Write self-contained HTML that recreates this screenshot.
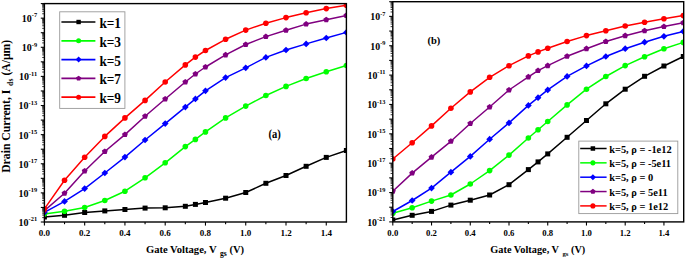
<!DOCTYPE html>
<html><head><meta charset="utf-8"><style>
html,body{margin:0;padding:0;background:#fff;width:685px;height:259px;overflow:hidden}
svg{display:block}
</style></head><body>
<svg width="685" height="259" viewBox="0 0 685 259">
<defs>
<clipPath id="c44"><rect x="44.4" y="3.4" width="302" height="218.6"/></clipPath>
<clipPath id="c392"><rect x="392.8" y="1.4" width="290.5" height="220.2"/></clipPath>
</defs>
<rect width="685" height="259" fill="#fff"/>
<g clip-path="url(#c44)">
<polyline points="44.40,217.00 64.53,215.30 84.67,212.50 104.80,210.90 124.93,209.50 145.07,208.10 165.20,207.80 185.33,206.30 195.40,204.40 205.47,202.50 225.60,198.20 245.73,192.50 265.87,183.30 286.00,175.50 306.13,166.30 326.27,157.40 346.40,150.50" fill="none" stroke="#000000" stroke-width="1.5" stroke-linejoin="round"/>
<rect x="41.90" y="214.50" width="5.00" height="5.00" fill="#000000"/>
<rect x="62.03" y="212.80" width="5.00" height="5.00" fill="#000000"/>
<rect x="82.17" y="210.00" width="5.00" height="5.00" fill="#000000"/>
<rect x="102.30" y="208.40" width="5.00" height="5.00" fill="#000000"/>
<rect x="122.43" y="207.00" width="5.00" height="5.00" fill="#000000"/>
<rect x="142.57" y="205.60" width="5.00" height="5.00" fill="#000000"/>
<rect x="162.70" y="205.30" width="5.00" height="5.00" fill="#000000"/>
<rect x="182.83" y="203.80" width="5.00" height="5.00" fill="#000000"/>
<rect x="192.90" y="201.90" width="5.00" height="5.00" fill="#000000"/>
<rect x="202.97" y="200.00" width="5.00" height="5.00" fill="#000000"/>
<rect x="223.10" y="195.70" width="5.00" height="5.00" fill="#000000"/>
<rect x="243.23" y="190.00" width="5.00" height="5.00" fill="#000000"/>
<rect x="263.37" y="180.80" width="5.00" height="5.00" fill="#000000"/>
<rect x="283.50" y="173.00" width="5.00" height="5.00" fill="#000000"/>
<rect x="303.63" y="163.80" width="5.00" height="5.00" fill="#000000"/>
<rect x="323.77" y="154.90" width="5.00" height="5.00" fill="#000000"/>
<rect x="343.90" y="148.00" width="5.00" height="5.00" fill="#000000"/>
<polyline points="44.40,214.10 64.53,211.20 84.67,207.50 104.80,200.50 124.93,191.20 145.07,177.80 165.20,162.80 185.33,146.60 195.40,139.40 205.47,131.90 225.60,117.90 245.73,106.10 265.87,95.50 286.00,86.40 306.13,78.50 326.27,71.80 346.40,65.50" fill="none" stroke="#00ff00" stroke-width="1.5" stroke-linejoin="round"/>
<circle cx="44.40" cy="214.10" r="2.80" fill="#00ff00"/>
<circle cx="64.53" cy="211.20" r="2.80" fill="#00ff00"/>
<circle cx="84.67" cy="207.50" r="2.80" fill="#00ff00"/>
<circle cx="104.80" cy="200.50" r="2.80" fill="#00ff00"/>
<circle cx="124.93" cy="191.20" r="2.80" fill="#00ff00"/>
<circle cx="145.07" cy="177.80" r="2.80" fill="#00ff00"/>
<circle cx="165.20" cy="162.80" r="2.80" fill="#00ff00"/>
<circle cx="185.33" cy="146.60" r="2.80" fill="#00ff00"/>
<circle cx="195.40" cy="139.40" r="2.80" fill="#00ff00"/>
<circle cx="205.47" cy="131.90" r="2.80" fill="#00ff00"/>
<circle cx="225.60" cy="117.90" r="2.80" fill="#00ff00"/>
<circle cx="245.73" cy="106.10" r="2.80" fill="#00ff00"/>
<circle cx="265.87" cy="95.50" r="2.80" fill="#00ff00"/>
<circle cx="286.00" cy="86.40" r="2.80" fill="#00ff00"/>
<circle cx="306.13" cy="78.50" r="2.80" fill="#00ff00"/>
<circle cx="326.27" cy="71.80" r="2.80" fill="#00ff00"/>
<circle cx="346.40" cy="65.50" r="2.80" fill="#00ff00"/>
<polyline points="44.40,212.40 64.53,201.40 84.67,188.60 104.80,173.00 124.93,157.10 145.07,140.00 165.20,123.60 185.33,107.05 195.40,98.90 205.47,90.80 225.60,77.60 245.73,67.80 265.87,57.40 286.00,50.00 306.13,43.90 326.27,38.00 346.40,32.40" fill="none" stroke="#0000ff" stroke-width="1.5" stroke-linejoin="round"/>
<path d="M44.40,209.04L47.76,212.40L44.40,215.76L41.04,212.40Z" fill="#0000ff"/>
<path d="M64.53,198.04L67.89,201.40L64.53,204.76L61.17,201.40Z" fill="#0000ff"/>
<path d="M84.67,185.24L88.03,188.60L84.67,191.96L81.31,188.60Z" fill="#0000ff"/>
<path d="M104.80,169.64L108.16,173.00L104.80,176.36L101.44,173.00Z" fill="#0000ff"/>
<path d="M124.93,153.74L128.29,157.10L124.93,160.46L121.57,157.10Z" fill="#0000ff"/>
<path d="M145.07,136.64L148.43,140.00L145.07,143.36L141.71,140.00Z" fill="#0000ff"/>
<path d="M165.20,120.24L168.56,123.60L165.20,126.96L161.84,123.60Z" fill="#0000ff"/>
<path d="M185.33,103.69L188.69,107.05L185.33,110.41L181.97,107.05Z" fill="#0000ff"/>
<path d="M195.40,95.54L198.76,98.90L195.40,102.26L192.04,98.90Z" fill="#0000ff"/>
<path d="M205.47,87.44L208.83,90.80L205.47,94.16L202.11,90.80Z" fill="#0000ff"/>
<path d="M225.60,74.24L228.96,77.60L225.60,80.96L222.24,77.60Z" fill="#0000ff"/>
<path d="M245.73,64.44L249.09,67.80L245.73,71.16L242.37,67.80Z" fill="#0000ff"/>
<path d="M265.87,54.04L269.23,57.40L265.87,60.76L262.51,57.40Z" fill="#0000ff"/>
<path d="M286.00,46.64L289.36,50.00L286.00,53.36L282.64,50.00Z" fill="#0000ff"/>
<path d="M306.13,40.54L309.49,43.90L306.13,47.26L302.77,43.90Z" fill="#0000ff"/>
<path d="M326.27,34.64L329.63,38.00L326.27,41.36L322.91,38.00Z" fill="#0000ff"/>
<path d="M346.40,29.04L349.76,32.40L346.40,35.76L343.04,32.40Z" fill="#0000ff"/>
<polyline points="44.40,210.60 64.53,193.30 84.67,171.00 104.80,151.50 124.93,134.60 145.07,116.30 165.20,99.00 185.33,82.00 195.40,74.00 205.47,67.00 225.60,54.90 245.73,44.50 265.87,36.60 286.00,30.30 306.13,24.10 326.27,19.80 346.40,15.40" fill="none" stroke="#800080" stroke-width="1.5" stroke-linejoin="round"/>
<polygon points="44.40,207.52 47.33,209.65 46.21,213.09 42.59,213.09 41.47,209.65" fill="#800080"/>
<polygon points="64.53,190.22 67.46,192.35 66.34,195.79 62.72,195.79 61.60,192.35" fill="#800080"/>
<polygon points="84.67,167.92 87.60,170.05 86.48,173.49 82.86,173.49 81.74,170.05" fill="#800080"/>
<polygon points="104.80,148.42 107.73,150.55 106.61,153.99 102.99,153.99 101.87,150.55" fill="#800080"/>
<polygon points="124.93,131.52 127.86,133.65 126.74,137.09 123.12,137.09 122.00,133.65" fill="#800080"/>
<polygon points="145.07,113.22 148.00,115.35 146.88,118.79 143.26,118.79 142.14,115.35" fill="#800080"/>
<polygon points="165.20,95.92 168.13,98.05 167.01,101.49 163.39,101.49 162.27,98.05" fill="#800080"/>
<polygon points="185.33,78.92 188.26,81.05 187.14,84.49 183.52,84.49 182.40,81.05" fill="#800080"/>
<polygon points="195.40,70.92 198.33,73.05 197.21,76.49 193.59,76.49 192.47,73.05" fill="#800080"/>
<polygon points="205.47,63.92 208.40,66.05 207.28,69.49 203.66,69.49 202.54,66.05" fill="#800080"/>
<polygon points="225.60,51.82 228.53,53.95 227.41,57.39 223.79,57.39 222.67,53.95" fill="#800080"/>
<polygon points="245.73,41.42 248.66,43.55 247.54,46.99 243.92,46.99 242.80,43.55" fill="#800080"/>
<polygon points="265.87,33.52 268.80,35.65 267.68,39.09 264.06,39.09 262.94,35.65" fill="#800080"/>
<polygon points="286.00,27.22 288.93,29.35 287.81,32.79 284.19,32.79 283.07,29.35" fill="#800080"/>
<polygon points="306.13,21.02 309.06,23.15 307.94,26.59 304.32,26.59 303.20,23.15" fill="#800080"/>
<polygon points="326.27,16.72 329.20,18.85 328.08,22.29 324.46,22.29 323.34,18.85" fill="#800080"/>
<polygon points="346.40,12.32 349.33,14.45 348.21,17.89 344.59,17.89 343.47,14.45" fill="#800080"/>
<polyline points="44.40,208.90 64.53,180.30 84.67,157.30 104.80,136.40 124.93,117.90 145.07,100.40 165.20,82.00 185.33,64.90 195.40,57.10 205.47,50.50 225.60,39.30 245.73,30.10 265.87,23.20 286.00,17.60 306.13,12.70 326.27,8.60 346.40,5.30" fill="none" stroke="#ff0000" stroke-width="1.5" stroke-linejoin="round"/>
<circle cx="44.40" cy="208.90" r="2.80" fill="#ff0000"/>
<circle cx="64.53" cy="180.30" r="2.80" fill="#ff0000"/>
<circle cx="84.67" cy="157.30" r="2.80" fill="#ff0000"/>
<circle cx="104.80" cy="136.40" r="2.80" fill="#ff0000"/>
<circle cx="124.93" cy="117.90" r="2.80" fill="#ff0000"/>
<circle cx="145.07" cy="100.40" r="2.80" fill="#ff0000"/>
<circle cx="165.20" cy="82.00" r="2.80" fill="#ff0000"/>
<circle cx="185.33" cy="64.90" r="2.80" fill="#ff0000"/>
<circle cx="195.40" cy="57.10" r="2.80" fill="#ff0000"/>
<circle cx="205.47" cy="50.50" r="2.80" fill="#ff0000"/>
<circle cx="225.60" cy="39.30" r="2.80" fill="#ff0000"/>
<circle cx="245.73" cy="30.10" r="2.80" fill="#ff0000"/>
<circle cx="265.87" cy="23.20" r="2.80" fill="#ff0000"/>
<circle cx="286.00" cy="17.60" r="2.80" fill="#ff0000"/>
<circle cx="306.13" cy="12.70" r="2.80" fill="#ff0000"/>
<circle cx="326.27" cy="8.60" r="2.80" fill="#ff0000"/>
<circle cx="346.40" cy="5.30" r="2.80" fill="#ff0000"/>
</g>
<rect x="44.40" y="3.60" width="302.00" height="218.40" fill="none" stroke="#000" stroke-width="1.4"/>
<line x1="40.80" y1="222.00" x2="44.40" y2="222.00" stroke="#000" stroke-width="1.1"/>
<line x1="42.20" y1="217.62" x2="44.40" y2="217.62" stroke="#000" stroke-width="0.8"/>
<line x1="42.20" y1="215.05" x2="44.40" y2="215.05" stroke="#000" stroke-width="0.8"/>
<line x1="42.20" y1="213.23" x2="44.40" y2="213.23" stroke="#000" stroke-width="0.8"/>
<line x1="42.20" y1="211.82" x2="44.40" y2="211.82" stroke="#000" stroke-width="0.8"/>
<line x1="42.20" y1="210.67" x2="44.40" y2="210.67" stroke="#000" stroke-width="0.8"/>
<line x1="42.20" y1="209.70" x2="44.40" y2="209.70" stroke="#000" stroke-width="0.8"/>
<line x1="42.20" y1="208.85" x2="44.40" y2="208.85" stroke="#000" stroke-width="0.8"/>
<line x1="42.20" y1="208.11" x2="44.40" y2="208.11" stroke="#000" stroke-width="0.8"/>
<line x1="40.80" y1="207.44" x2="44.40" y2="207.44" stroke="#000" stroke-width="1.1"/>
<line x1="42.20" y1="203.06" x2="44.40" y2="203.06" stroke="#000" stroke-width="0.8"/>
<line x1="42.20" y1="200.49" x2="44.40" y2="200.49" stroke="#000" stroke-width="0.8"/>
<line x1="42.20" y1="198.67" x2="44.40" y2="198.67" stroke="#000" stroke-width="0.8"/>
<line x1="42.20" y1="197.26" x2="44.40" y2="197.26" stroke="#000" stroke-width="0.8"/>
<line x1="42.20" y1="196.11" x2="44.40" y2="196.11" stroke="#000" stroke-width="0.8"/>
<line x1="42.20" y1="195.14" x2="44.40" y2="195.14" stroke="#000" stroke-width="0.8"/>
<line x1="42.20" y1="194.29" x2="44.40" y2="194.29" stroke="#000" stroke-width="0.8"/>
<line x1="42.20" y1="193.55" x2="44.40" y2="193.55" stroke="#000" stroke-width="0.8"/>
<line x1="40.80" y1="192.88" x2="44.40" y2="192.88" stroke="#000" stroke-width="1.1"/>
<line x1="42.20" y1="188.50" x2="44.40" y2="188.50" stroke="#000" stroke-width="0.8"/>
<line x1="42.20" y1="185.93" x2="44.40" y2="185.93" stroke="#000" stroke-width="0.8"/>
<line x1="42.20" y1="184.11" x2="44.40" y2="184.11" stroke="#000" stroke-width="0.8"/>
<line x1="42.20" y1="182.70" x2="44.40" y2="182.70" stroke="#000" stroke-width="0.8"/>
<line x1="42.20" y1="181.55" x2="44.40" y2="181.55" stroke="#000" stroke-width="0.8"/>
<line x1="42.20" y1="180.58" x2="44.40" y2="180.58" stroke="#000" stroke-width="0.8"/>
<line x1="42.20" y1="179.73" x2="44.40" y2="179.73" stroke="#000" stroke-width="0.8"/>
<line x1="42.20" y1="178.99" x2="44.40" y2="178.99" stroke="#000" stroke-width="0.8"/>
<line x1="40.80" y1="178.32" x2="44.40" y2="178.32" stroke="#000" stroke-width="1.1"/>
<line x1="42.20" y1="173.94" x2="44.40" y2="173.94" stroke="#000" stroke-width="0.8"/>
<line x1="42.20" y1="171.37" x2="44.40" y2="171.37" stroke="#000" stroke-width="0.8"/>
<line x1="42.20" y1="169.55" x2="44.40" y2="169.55" stroke="#000" stroke-width="0.8"/>
<line x1="42.20" y1="168.14" x2="44.40" y2="168.14" stroke="#000" stroke-width="0.8"/>
<line x1="42.20" y1="166.99" x2="44.40" y2="166.99" stroke="#000" stroke-width="0.8"/>
<line x1="42.20" y1="166.02" x2="44.40" y2="166.02" stroke="#000" stroke-width="0.8"/>
<line x1="42.20" y1="165.17" x2="44.40" y2="165.17" stroke="#000" stroke-width="0.8"/>
<line x1="42.20" y1="164.43" x2="44.40" y2="164.43" stroke="#000" stroke-width="0.8"/>
<line x1="40.80" y1="163.76" x2="44.40" y2="163.76" stroke="#000" stroke-width="1.1"/>
<line x1="42.20" y1="159.38" x2="44.40" y2="159.38" stroke="#000" stroke-width="0.8"/>
<line x1="42.20" y1="156.81" x2="44.40" y2="156.81" stroke="#000" stroke-width="0.8"/>
<line x1="42.20" y1="154.99" x2="44.40" y2="154.99" stroke="#000" stroke-width="0.8"/>
<line x1="42.20" y1="153.58" x2="44.40" y2="153.58" stroke="#000" stroke-width="0.8"/>
<line x1="42.20" y1="152.43" x2="44.40" y2="152.43" stroke="#000" stroke-width="0.8"/>
<line x1="42.20" y1="151.46" x2="44.40" y2="151.46" stroke="#000" stroke-width="0.8"/>
<line x1="42.20" y1="150.61" x2="44.40" y2="150.61" stroke="#000" stroke-width="0.8"/>
<line x1="42.20" y1="149.87" x2="44.40" y2="149.87" stroke="#000" stroke-width="0.8"/>
<line x1="40.80" y1="149.20" x2="44.40" y2="149.20" stroke="#000" stroke-width="1.1"/>
<line x1="42.20" y1="144.82" x2="44.40" y2="144.82" stroke="#000" stroke-width="0.8"/>
<line x1="42.20" y1="142.25" x2="44.40" y2="142.25" stroke="#000" stroke-width="0.8"/>
<line x1="42.20" y1="140.43" x2="44.40" y2="140.43" stroke="#000" stroke-width="0.8"/>
<line x1="42.20" y1="139.02" x2="44.40" y2="139.02" stroke="#000" stroke-width="0.8"/>
<line x1="42.20" y1="137.87" x2="44.40" y2="137.87" stroke="#000" stroke-width="0.8"/>
<line x1="42.20" y1="136.90" x2="44.40" y2="136.90" stroke="#000" stroke-width="0.8"/>
<line x1="42.20" y1="136.05" x2="44.40" y2="136.05" stroke="#000" stroke-width="0.8"/>
<line x1="42.20" y1="135.31" x2="44.40" y2="135.31" stroke="#000" stroke-width="0.8"/>
<line x1="40.80" y1="134.64" x2="44.40" y2="134.64" stroke="#000" stroke-width="1.1"/>
<line x1="42.20" y1="130.26" x2="44.40" y2="130.26" stroke="#000" stroke-width="0.8"/>
<line x1="42.20" y1="127.69" x2="44.40" y2="127.69" stroke="#000" stroke-width="0.8"/>
<line x1="42.20" y1="125.87" x2="44.40" y2="125.87" stroke="#000" stroke-width="0.8"/>
<line x1="42.20" y1="124.46" x2="44.40" y2="124.46" stroke="#000" stroke-width="0.8"/>
<line x1="42.20" y1="123.31" x2="44.40" y2="123.31" stroke="#000" stroke-width="0.8"/>
<line x1="42.20" y1="122.34" x2="44.40" y2="122.34" stroke="#000" stroke-width="0.8"/>
<line x1="42.20" y1="121.49" x2="44.40" y2="121.49" stroke="#000" stroke-width="0.8"/>
<line x1="42.20" y1="120.75" x2="44.40" y2="120.75" stroke="#000" stroke-width="0.8"/>
<line x1="40.80" y1="120.08" x2="44.40" y2="120.08" stroke="#000" stroke-width="1.1"/>
<line x1="42.20" y1="115.70" x2="44.40" y2="115.70" stroke="#000" stroke-width="0.8"/>
<line x1="42.20" y1="113.13" x2="44.40" y2="113.13" stroke="#000" stroke-width="0.8"/>
<line x1="42.20" y1="111.31" x2="44.40" y2="111.31" stroke="#000" stroke-width="0.8"/>
<line x1="42.20" y1="109.90" x2="44.40" y2="109.90" stroke="#000" stroke-width="0.8"/>
<line x1="42.20" y1="108.75" x2="44.40" y2="108.75" stroke="#000" stroke-width="0.8"/>
<line x1="42.20" y1="107.78" x2="44.40" y2="107.78" stroke="#000" stroke-width="0.8"/>
<line x1="42.20" y1="106.93" x2="44.40" y2="106.93" stroke="#000" stroke-width="0.8"/>
<line x1="42.20" y1="106.19" x2="44.40" y2="106.19" stroke="#000" stroke-width="0.8"/>
<line x1="40.80" y1="105.52" x2="44.40" y2="105.52" stroke="#000" stroke-width="1.1"/>
<line x1="42.20" y1="101.14" x2="44.40" y2="101.14" stroke="#000" stroke-width="0.8"/>
<line x1="42.20" y1="98.57" x2="44.40" y2="98.57" stroke="#000" stroke-width="0.8"/>
<line x1="42.20" y1="96.75" x2="44.40" y2="96.75" stroke="#000" stroke-width="0.8"/>
<line x1="42.20" y1="95.34" x2="44.40" y2="95.34" stroke="#000" stroke-width="0.8"/>
<line x1="42.20" y1="94.19" x2="44.40" y2="94.19" stroke="#000" stroke-width="0.8"/>
<line x1="42.20" y1="93.22" x2="44.40" y2="93.22" stroke="#000" stroke-width="0.8"/>
<line x1="42.20" y1="92.37" x2="44.40" y2="92.37" stroke="#000" stroke-width="0.8"/>
<line x1="42.20" y1="91.63" x2="44.40" y2="91.63" stroke="#000" stroke-width="0.8"/>
<line x1="40.80" y1="90.96" x2="44.40" y2="90.96" stroke="#000" stroke-width="1.1"/>
<line x1="42.20" y1="86.58" x2="44.40" y2="86.58" stroke="#000" stroke-width="0.8"/>
<line x1="42.20" y1="84.01" x2="44.40" y2="84.01" stroke="#000" stroke-width="0.8"/>
<line x1="42.20" y1="82.19" x2="44.40" y2="82.19" stroke="#000" stroke-width="0.8"/>
<line x1="42.20" y1="80.78" x2="44.40" y2="80.78" stroke="#000" stroke-width="0.8"/>
<line x1="42.20" y1="79.63" x2="44.40" y2="79.63" stroke="#000" stroke-width="0.8"/>
<line x1="42.20" y1="78.66" x2="44.40" y2="78.66" stroke="#000" stroke-width="0.8"/>
<line x1="42.20" y1="77.81" x2="44.40" y2="77.81" stroke="#000" stroke-width="0.8"/>
<line x1="42.20" y1="77.07" x2="44.40" y2="77.07" stroke="#000" stroke-width="0.8"/>
<line x1="40.80" y1="76.40" x2="44.40" y2="76.40" stroke="#000" stroke-width="1.1"/>
<line x1="42.20" y1="72.02" x2="44.40" y2="72.02" stroke="#000" stroke-width="0.8"/>
<line x1="42.20" y1="69.45" x2="44.40" y2="69.45" stroke="#000" stroke-width="0.8"/>
<line x1="42.20" y1="67.63" x2="44.40" y2="67.63" stroke="#000" stroke-width="0.8"/>
<line x1="42.20" y1="66.22" x2="44.40" y2="66.22" stroke="#000" stroke-width="0.8"/>
<line x1="42.20" y1="65.07" x2="44.40" y2="65.07" stroke="#000" stroke-width="0.8"/>
<line x1="42.20" y1="64.10" x2="44.40" y2="64.10" stroke="#000" stroke-width="0.8"/>
<line x1="42.20" y1="63.25" x2="44.40" y2="63.25" stroke="#000" stroke-width="0.8"/>
<line x1="42.20" y1="62.51" x2="44.40" y2="62.51" stroke="#000" stroke-width="0.8"/>
<line x1="40.80" y1="61.84" x2="44.40" y2="61.84" stroke="#000" stroke-width="1.1"/>
<line x1="42.20" y1="57.46" x2="44.40" y2="57.46" stroke="#000" stroke-width="0.8"/>
<line x1="42.20" y1="54.89" x2="44.40" y2="54.89" stroke="#000" stroke-width="0.8"/>
<line x1="42.20" y1="53.07" x2="44.40" y2="53.07" stroke="#000" stroke-width="0.8"/>
<line x1="42.20" y1="51.66" x2="44.40" y2="51.66" stroke="#000" stroke-width="0.8"/>
<line x1="42.20" y1="50.51" x2="44.40" y2="50.51" stroke="#000" stroke-width="0.8"/>
<line x1="42.20" y1="49.54" x2="44.40" y2="49.54" stroke="#000" stroke-width="0.8"/>
<line x1="42.20" y1="48.69" x2="44.40" y2="48.69" stroke="#000" stroke-width="0.8"/>
<line x1="42.20" y1="47.95" x2="44.40" y2="47.95" stroke="#000" stroke-width="0.8"/>
<line x1="40.80" y1="47.28" x2="44.40" y2="47.28" stroke="#000" stroke-width="1.1"/>
<line x1="42.20" y1="42.90" x2="44.40" y2="42.90" stroke="#000" stroke-width="0.8"/>
<line x1="42.20" y1="40.33" x2="44.40" y2="40.33" stroke="#000" stroke-width="0.8"/>
<line x1="42.20" y1="38.51" x2="44.40" y2="38.51" stroke="#000" stroke-width="0.8"/>
<line x1="42.20" y1="37.10" x2="44.40" y2="37.10" stroke="#000" stroke-width="0.8"/>
<line x1="42.20" y1="35.95" x2="44.40" y2="35.95" stroke="#000" stroke-width="0.8"/>
<line x1="42.20" y1="34.98" x2="44.40" y2="34.98" stroke="#000" stroke-width="0.8"/>
<line x1="42.20" y1="34.13" x2="44.40" y2="34.13" stroke="#000" stroke-width="0.8"/>
<line x1="42.20" y1="33.39" x2="44.40" y2="33.39" stroke="#000" stroke-width="0.8"/>
<line x1="40.80" y1="32.72" x2="44.40" y2="32.72" stroke="#000" stroke-width="1.1"/>
<line x1="42.20" y1="28.34" x2="44.40" y2="28.34" stroke="#000" stroke-width="0.8"/>
<line x1="42.20" y1="25.77" x2="44.40" y2="25.77" stroke="#000" stroke-width="0.8"/>
<line x1="42.20" y1="23.95" x2="44.40" y2="23.95" stroke="#000" stroke-width="0.8"/>
<line x1="42.20" y1="22.54" x2="44.40" y2="22.54" stroke="#000" stroke-width="0.8"/>
<line x1="42.20" y1="21.39" x2="44.40" y2="21.39" stroke="#000" stroke-width="0.8"/>
<line x1="42.20" y1="20.42" x2="44.40" y2="20.42" stroke="#000" stroke-width="0.8"/>
<line x1="42.20" y1="19.57" x2="44.40" y2="19.57" stroke="#000" stroke-width="0.8"/>
<line x1="42.20" y1="18.83" x2="44.40" y2="18.83" stroke="#000" stroke-width="0.8"/>
<line x1="40.80" y1="18.16" x2="44.40" y2="18.16" stroke="#000" stroke-width="1.1"/>
<line x1="42.20" y1="13.78" x2="44.40" y2="13.78" stroke="#000" stroke-width="0.8"/>
<line x1="42.20" y1="11.21" x2="44.40" y2="11.21" stroke="#000" stroke-width="0.8"/>
<line x1="42.20" y1="9.39" x2="44.40" y2="9.39" stroke="#000" stroke-width="0.8"/>
<line x1="42.20" y1="7.98" x2="44.40" y2="7.98" stroke="#000" stroke-width="0.8"/>
<line x1="42.20" y1="6.83" x2="44.40" y2="6.83" stroke="#000" stroke-width="0.8"/>
<line x1="42.20" y1="5.86" x2="44.40" y2="5.86" stroke="#000" stroke-width="0.8"/>
<line x1="42.20" y1="5.01" x2="44.40" y2="5.01" stroke="#000" stroke-width="0.8"/>
<line x1="42.20" y1="4.27" x2="44.40" y2="4.27" stroke="#000" stroke-width="0.8"/>
<line x1="40.80" y1="3.60" x2="44.40" y2="3.60" stroke="#000" stroke-width="1.1"/>
<line x1="44.40" y1="222.00" x2="44.40" y2="225.60" stroke="#000" stroke-width="1.1"/>
<line x1="64.53" y1="222.00" x2="64.53" y2="224.20" stroke="#000" stroke-width="1.1"/>
<line x1="84.67" y1="222.00" x2="84.67" y2="225.60" stroke="#000" stroke-width="1.1"/>
<line x1="104.80" y1="222.00" x2="104.80" y2="224.20" stroke="#000" stroke-width="1.1"/>
<line x1="124.93" y1="222.00" x2="124.93" y2="225.60" stroke="#000" stroke-width="1.1"/>
<line x1="145.07" y1="222.00" x2="145.07" y2="224.20" stroke="#000" stroke-width="1.1"/>
<line x1="165.20" y1="222.00" x2="165.20" y2="225.60" stroke="#000" stroke-width="1.1"/>
<line x1="185.33" y1="222.00" x2="185.33" y2="224.20" stroke="#000" stroke-width="1.1"/>
<line x1="205.47" y1="222.00" x2="205.47" y2="225.60" stroke="#000" stroke-width="1.1"/>
<line x1="225.60" y1="222.00" x2="225.60" y2="224.20" stroke="#000" stroke-width="1.1"/>
<line x1="245.73" y1="222.00" x2="245.73" y2="225.60" stroke="#000" stroke-width="1.1"/>
<line x1="265.87" y1="222.00" x2="265.87" y2="224.20" stroke="#000" stroke-width="1.1"/>
<line x1="286.00" y1="222.00" x2="286.00" y2="225.60" stroke="#000" stroke-width="1.1"/>
<line x1="306.13" y1="222.00" x2="306.13" y2="224.20" stroke="#000" stroke-width="1.1"/>
<line x1="326.27" y1="222.00" x2="326.27" y2="225.60" stroke="#000" stroke-width="1.1"/>
<g clip-path="url(#c392)">
<polyline points="392.80,220.00 412.17,215.30 431.53,211.40 450.90,205.10 470.27,200.20 489.63,195.00 509.00,184.70 528.37,169.60 538.05,161.90 547.73,153.90 567.10,137.30 586.47,120.50 605.83,103.80 625.20,89.20 644.57,76.30 663.93,66.00 683.30,56.50" fill="none" stroke="#000000" stroke-width="1.5" stroke-linejoin="round"/>
<rect x="390.30" y="217.50" width="5.00" height="5.00" fill="#000000"/>
<rect x="409.67" y="212.80" width="5.00" height="5.00" fill="#000000"/>
<rect x="429.03" y="208.90" width="5.00" height="5.00" fill="#000000"/>
<rect x="448.40" y="202.60" width="5.00" height="5.00" fill="#000000"/>
<rect x="467.77" y="197.70" width="5.00" height="5.00" fill="#000000"/>
<rect x="487.13" y="192.50" width="5.00" height="5.00" fill="#000000"/>
<rect x="506.50" y="182.20" width="5.00" height="5.00" fill="#000000"/>
<rect x="525.87" y="167.10" width="5.00" height="5.00" fill="#000000"/>
<rect x="535.55" y="159.40" width="5.00" height="5.00" fill="#000000"/>
<rect x="545.23" y="151.40" width="5.00" height="5.00" fill="#000000"/>
<rect x="564.60" y="134.80" width="5.00" height="5.00" fill="#000000"/>
<rect x="583.97" y="118.00" width="5.00" height="5.00" fill="#000000"/>
<rect x="603.33" y="101.30" width="5.00" height="5.00" fill="#000000"/>
<rect x="622.70" y="86.70" width="5.00" height="5.00" fill="#000000"/>
<rect x="642.07" y="73.80" width="5.00" height="5.00" fill="#000000"/>
<rect x="661.43" y="63.50" width="5.00" height="5.00" fill="#000000"/>
<rect x="680.80" y="54.00" width="5.00" height="5.00" fill="#000000"/>
<polyline points="392.80,213.20 412.17,207.80 431.53,201.10 450.90,195.00 470.27,184.00 489.63,170.60 509.00,155.10 528.37,138.00 538.05,129.80 547.73,121.50 567.10,104.90 586.47,89.20 605.83,76.50 625.20,65.60 644.57,56.70 663.93,48.70 683.30,42.40" fill="none" stroke="#00ff00" stroke-width="1.5" stroke-linejoin="round"/>
<circle cx="392.80" cy="213.20" r="2.80" fill="#00ff00"/>
<circle cx="412.17" cy="207.80" r="2.80" fill="#00ff00"/>
<circle cx="431.53" cy="201.10" r="2.80" fill="#00ff00"/>
<circle cx="450.90" cy="195.00" r="2.80" fill="#00ff00"/>
<circle cx="470.27" cy="184.00" r="2.80" fill="#00ff00"/>
<circle cx="489.63" cy="170.60" r="2.80" fill="#00ff00"/>
<circle cx="509.00" cy="155.10" r="2.80" fill="#00ff00"/>
<circle cx="528.37" cy="138.00" r="2.80" fill="#00ff00"/>
<circle cx="538.05" cy="129.80" r="2.80" fill="#00ff00"/>
<circle cx="547.73" cy="121.50" r="2.80" fill="#00ff00"/>
<circle cx="567.10" cy="104.90" r="2.80" fill="#00ff00"/>
<circle cx="586.47" cy="89.20" r="2.80" fill="#00ff00"/>
<circle cx="605.83" cy="76.50" r="2.80" fill="#00ff00"/>
<circle cx="625.20" cy="65.60" r="2.80" fill="#00ff00"/>
<circle cx="644.57" cy="56.70" r="2.80" fill="#00ff00"/>
<circle cx="663.93" cy="48.70" r="2.80" fill="#00ff00"/>
<circle cx="683.30" cy="42.40" r="2.80" fill="#00ff00"/>
<polyline points="392.80,211.50 412.17,200.50 431.53,188.10 450.90,172.20 470.27,156.40 489.63,139.20 509.00,122.90 528.37,105.40 538.05,97.70 547.73,89.90 567.10,76.40 586.47,65.90 605.83,56.50 625.20,48.70 644.57,42.20 663.93,36.30 683.30,31.40" fill="none" stroke="#0000ff" stroke-width="1.5" stroke-linejoin="round"/>
<path d="M392.80,208.14L396.16,211.50L392.80,214.86L389.44,211.50Z" fill="#0000ff"/>
<path d="M412.17,197.14L415.53,200.50L412.17,203.86L408.81,200.50Z" fill="#0000ff"/>
<path d="M431.53,184.74L434.89,188.10L431.53,191.46L428.17,188.10Z" fill="#0000ff"/>
<path d="M450.90,168.84L454.26,172.20L450.90,175.56L447.54,172.20Z" fill="#0000ff"/>
<path d="M470.27,153.04L473.63,156.40L470.27,159.76L466.91,156.40Z" fill="#0000ff"/>
<path d="M489.63,135.84L492.99,139.20L489.63,142.56L486.27,139.20Z" fill="#0000ff"/>
<path d="M509.00,119.54L512.36,122.90L509.00,126.26L505.64,122.90Z" fill="#0000ff"/>
<path d="M528.37,102.04L531.73,105.40L528.37,108.76L525.01,105.40Z" fill="#0000ff"/>
<path d="M538.05,94.34L541.41,97.70L538.05,101.06L534.69,97.70Z" fill="#0000ff"/>
<path d="M547.73,86.54L551.09,89.90L547.73,93.26L544.37,89.90Z" fill="#0000ff"/>
<path d="M567.10,73.04L570.46,76.40L567.10,79.76L563.74,76.40Z" fill="#0000ff"/>
<path d="M586.47,62.54L589.83,65.90L586.47,69.26L583.11,65.90Z" fill="#0000ff"/>
<path d="M605.83,53.14L609.19,56.50L605.83,59.86L602.47,56.50Z" fill="#0000ff"/>
<path d="M625.20,45.34L628.56,48.70L625.20,52.06L621.84,48.70Z" fill="#0000ff"/>
<path d="M644.57,38.84L647.93,42.20L644.57,45.56L641.21,42.20Z" fill="#0000ff"/>
<path d="M663.93,32.94L667.29,36.30L663.93,39.66L660.57,36.30Z" fill="#0000ff"/>
<path d="M683.30,28.04L686.66,31.40L683.30,34.76L679.94,31.40Z" fill="#0000ff"/>
<polyline points="392.80,191.20 412.17,173.10 431.53,157.20 450.90,141.30 470.27,123.50 489.63,107.00 509.00,90.00 528.37,76.90 538.05,70.60 547.73,65.70 567.10,56.30 586.47,48.70 605.83,41.50 625.20,35.70 644.57,30.80 663.93,26.60 683.30,22.80" fill="none" stroke="#800080" stroke-width="1.5" stroke-linejoin="round"/>
<polygon points="392.80,188.12 395.73,190.25 394.61,193.69 390.99,193.69 389.87,190.25" fill="#800080"/>
<polygon points="412.17,170.02 415.10,172.15 413.98,175.59 410.36,175.59 409.24,172.15" fill="#800080"/>
<polygon points="431.53,154.12 434.46,156.25 433.34,159.69 429.72,159.69 428.60,156.25" fill="#800080"/>
<polygon points="450.90,138.22 453.83,140.35 452.71,143.79 449.09,143.79 447.97,140.35" fill="#800080"/>
<polygon points="470.27,120.42 473.20,122.55 472.08,125.99 468.46,125.99 467.34,122.55" fill="#800080"/>
<polygon points="489.63,103.92 492.56,106.05 491.44,109.49 487.82,109.49 486.70,106.05" fill="#800080"/>
<polygon points="509.00,86.92 511.93,89.05 510.81,92.49 507.19,92.49 506.07,89.05" fill="#800080"/>
<polygon points="528.37,73.82 531.30,75.95 530.18,79.39 526.56,79.39 525.44,75.95" fill="#800080"/>
<polygon points="538.05,67.52 540.98,69.65 539.86,73.09 536.24,73.09 535.12,69.65" fill="#800080"/>
<polygon points="547.73,62.62 550.66,64.75 549.54,68.19 545.92,68.19 544.80,64.75" fill="#800080"/>
<polygon points="567.10,53.22 570.03,55.35 568.91,58.79 565.29,58.79 564.17,55.35" fill="#800080"/>
<polygon points="586.47,45.62 589.40,47.75 588.28,51.19 584.66,51.19 583.54,47.75" fill="#800080"/>
<polygon points="605.83,38.42 608.76,40.55 607.64,43.99 604.02,43.99 602.90,40.55" fill="#800080"/>
<polygon points="625.20,32.62 628.13,34.75 627.01,38.19 623.39,38.19 622.27,34.75" fill="#800080"/>
<polygon points="644.57,27.72 647.50,29.85 646.38,33.29 642.76,33.29 641.64,29.85" fill="#800080"/>
<polygon points="663.93,23.52 666.86,25.65 665.74,29.09 662.12,29.09 661.00,25.65" fill="#800080"/>
<polygon points="683.30,19.72 686.23,21.85 685.11,25.29 681.49,25.29 680.37,21.85" fill="#800080"/>
<polyline points="392.80,159.00 412.17,142.70 431.53,125.90 450.90,108.20 470.27,91.90 489.63,77.30 509.00,65.70 528.37,55.90 538.05,51.90 547.73,48.20 567.10,41.50 586.47,35.60 605.83,30.70 625.20,26.00 644.57,22.20 663.93,18.80 683.30,15.60" fill="none" stroke="#ff0000" stroke-width="1.5" stroke-linejoin="round"/>
<circle cx="392.80" cy="159.00" r="2.80" fill="#ff0000"/>
<circle cx="412.17" cy="142.70" r="2.80" fill="#ff0000"/>
<circle cx="431.53" cy="125.90" r="2.80" fill="#ff0000"/>
<circle cx="450.90" cy="108.20" r="2.80" fill="#ff0000"/>
<circle cx="470.27" cy="91.90" r="2.80" fill="#ff0000"/>
<circle cx="489.63" cy="77.30" r="2.80" fill="#ff0000"/>
<circle cx="509.00" cy="65.70" r="2.80" fill="#ff0000"/>
<circle cx="528.37" cy="55.90" r="2.80" fill="#ff0000"/>
<circle cx="538.05" cy="51.90" r="2.80" fill="#ff0000"/>
<circle cx="547.73" cy="48.20" r="2.80" fill="#ff0000"/>
<circle cx="567.10" cy="41.50" r="2.80" fill="#ff0000"/>
<circle cx="586.47" cy="35.60" r="2.80" fill="#ff0000"/>
<circle cx="605.83" cy="30.70" r="2.80" fill="#ff0000"/>
<circle cx="625.20" cy="26.00" r="2.80" fill="#ff0000"/>
<circle cx="644.57" cy="22.20" r="2.80" fill="#ff0000"/>
<circle cx="663.93" cy="18.80" r="2.80" fill="#ff0000"/>
<circle cx="683.30" cy="15.60" r="2.80" fill="#ff0000"/>
</g>
<rect x="392.80" y="1.70" width="290.90" height="220.20" fill="none" stroke="#000" stroke-width="1.4"/>
<line x1="389.20" y1="221.90" x2="392.80" y2="221.90" stroke="#000" stroke-width="1.1"/>
<line x1="390.60" y1="217.48" x2="392.80" y2="217.48" stroke="#000" stroke-width="0.8"/>
<line x1="390.60" y1="214.90" x2="392.80" y2="214.90" stroke="#000" stroke-width="0.8"/>
<line x1="390.60" y1="213.06" x2="392.80" y2="213.06" stroke="#000" stroke-width="0.8"/>
<line x1="390.60" y1="211.64" x2="392.80" y2="211.64" stroke="#000" stroke-width="0.8"/>
<line x1="390.60" y1="210.48" x2="392.80" y2="210.48" stroke="#000" stroke-width="0.8"/>
<line x1="390.60" y1="209.49" x2="392.80" y2="209.49" stroke="#000" stroke-width="0.8"/>
<line x1="390.60" y1="208.64" x2="392.80" y2="208.64" stroke="#000" stroke-width="0.8"/>
<line x1="390.60" y1="207.89" x2="392.80" y2="207.89" stroke="#000" stroke-width="0.8"/>
<line x1="389.20" y1="207.22" x2="392.80" y2="207.22" stroke="#000" stroke-width="1.1"/>
<line x1="390.60" y1="202.80" x2="392.80" y2="202.80" stroke="#000" stroke-width="0.8"/>
<line x1="390.60" y1="200.22" x2="392.80" y2="200.22" stroke="#000" stroke-width="0.8"/>
<line x1="390.60" y1="198.38" x2="392.80" y2="198.38" stroke="#000" stroke-width="0.8"/>
<line x1="390.60" y1="196.96" x2="392.80" y2="196.96" stroke="#000" stroke-width="0.8"/>
<line x1="390.60" y1="195.80" x2="392.80" y2="195.80" stroke="#000" stroke-width="0.8"/>
<line x1="390.60" y1="194.81" x2="392.80" y2="194.81" stroke="#000" stroke-width="0.8"/>
<line x1="390.60" y1="193.96" x2="392.80" y2="193.96" stroke="#000" stroke-width="0.8"/>
<line x1="390.60" y1="193.21" x2="392.80" y2="193.21" stroke="#000" stroke-width="0.8"/>
<line x1="389.20" y1="192.54" x2="392.80" y2="192.54" stroke="#000" stroke-width="1.1"/>
<line x1="390.60" y1="188.12" x2="392.80" y2="188.12" stroke="#000" stroke-width="0.8"/>
<line x1="390.60" y1="185.54" x2="392.80" y2="185.54" stroke="#000" stroke-width="0.8"/>
<line x1="390.60" y1="183.70" x2="392.80" y2="183.70" stroke="#000" stroke-width="0.8"/>
<line x1="390.60" y1="182.28" x2="392.80" y2="182.28" stroke="#000" stroke-width="0.8"/>
<line x1="390.60" y1="181.12" x2="392.80" y2="181.12" stroke="#000" stroke-width="0.8"/>
<line x1="390.60" y1="180.13" x2="392.80" y2="180.13" stroke="#000" stroke-width="0.8"/>
<line x1="390.60" y1="179.28" x2="392.80" y2="179.28" stroke="#000" stroke-width="0.8"/>
<line x1="390.60" y1="178.53" x2="392.80" y2="178.53" stroke="#000" stroke-width="0.8"/>
<line x1="389.20" y1="177.86" x2="392.80" y2="177.86" stroke="#000" stroke-width="1.1"/>
<line x1="390.60" y1="173.44" x2="392.80" y2="173.44" stroke="#000" stroke-width="0.8"/>
<line x1="390.60" y1="170.86" x2="392.80" y2="170.86" stroke="#000" stroke-width="0.8"/>
<line x1="390.60" y1="169.02" x2="392.80" y2="169.02" stroke="#000" stroke-width="0.8"/>
<line x1="390.60" y1="167.60" x2="392.80" y2="167.60" stroke="#000" stroke-width="0.8"/>
<line x1="390.60" y1="166.44" x2="392.80" y2="166.44" stroke="#000" stroke-width="0.8"/>
<line x1="390.60" y1="165.45" x2="392.80" y2="165.45" stroke="#000" stroke-width="0.8"/>
<line x1="390.60" y1="164.60" x2="392.80" y2="164.60" stroke="#000" stroke-width="0.8"/>
<line x1="390.60" y1="163.85" x2="392.80" y2="163.85" stroke="#000" stroke-width="0.8"/>
<line x1="389.20" y1="163.18" x2="392.80" y2="163.18" stroke="#000" stroke-width="1.1"/>
<line x1="390.60" y1="158.76" x2="392.80" y2="158.76" stroke="#000" stroke-width="0.8"/>
<line x1="390.60" y1="156.18" x2="392.80" y2="156.18" stroke="#000" stroke-width="0.8"/>
<line x1="390.60" y1="154.34" x2="392.80" y2="154.34" stroke="#000" stroke-width="0.8"/>
<line x1="390.60" y1="152.92" x2="392.80" y2="152.92" stroke="#000" stroke-width="0.8"/>
<line x1="390.60" y1="151.76" x2="392.80" y2="151.76" stroke="#000" stroke-width="0.8"/>
<line x1="390.60" y1="150.77" x2="392.80" y2="150.77" stroke="#000" stroke-width="0.8"/>
<line x1="390.60" y1="149.92" x2="392.80" y2="149.92" stroke="#000" stroke-width="0.8"/>
<line x1="390.60" y1="149.17" x2="392.80" y2="149.17" stroke="#000" stroke-width="0.8"/>
<line x1="389.20" y1="148.50" x2="392.80" y2="148.50" stroke="#000" stroke-width="1.1"/>
<line x1="390.60" y1="144.08" x2="392.80" y2="144.08" stroke="#000" stroke-width="0.8"/>
<line x1="390.60" y1="141.50" x2="392.80" y2="141.50" stroke="#000" stroke-width="0.8"/>
<line x1="390.60" y1="139.66" x2="392.80" y2="139.66" stroke="#000" stroke-width="0.8"/>
<line x1="390.60" y1="138.24" x2="392.80" y2="138.24" stroke="#000" stroke-width="0.8"/>
<line x1="390.60" y1="137.08" x2="392.80" y2="137.08" stroke="#000" stroke-width="0.8"/>
<line x1="390.60" y1="136.09" x2="392.80" y2="136.09" stroke="#000" stroke-width="0.8"/>
<line x1="390.60" y1="135.24" x2="392.80" y2="135.24" stroke="#000" stroke-width="0.8"/>
<line x1="390.60" y1="134.49" x2="392.80" y2="134.49" stroke="#000" stroke-width="0.8"/>
<line x1="389.20" y1="133.82" x2="392.80" y2="133.82" stroke="#000" stroke-width="1.1"/>
<line x1="390.60" y1="129.40" x2="392.80" y2="129.40" stroke="#000" stroke-width="0.8"/>
<line x1="390.60" y1="126.82" x2="392.80" y2="126.82" stroke="#000" stroke-width="0.8"/>
<line x1="390.60" y1="124.98" x2="392.80" y2="124.98" stroke="#000" stroke-width="0.8"/>
<line x1="390.60" y1="123.56" x2="392.80" y2="123.56" stroke="#000" stroke-width="0.8"/>
<line x1="390.60" y1="122.40" x2="392.80" y2="122.40" stroke="#000" stroke-width="0.8"/>
<line x1="390.60" y1="121.41" x2="392.80" y2="121.41" stroke="#000" stroke-width="0.8"/>
<line x1="390.60" y1="120.56" x2="392.80" y2="120.56" stroke="#000" stroke-width="0.8"/>
<line x1="390.60" y1="119.81" x2="392.80" y2="119.81" stroke="#000" stroke-width="0.8"/>
<line x1="389.20" y1="119.14" x2="392.80" y2="119.14" stroke="#000" stroke-width="1.1"/>
<line x1="390.60" y1="114.72" x2="392.80" y2="114.72" stroke="#000" stroke-width="0.8"/>
<line x1="390.60" y1="112.14" x2="392.80" y2="112.14" stroke="#000" stroke-width="0.8"/>
<line x1="390.60" y1="110.30" x2="392.80" y2="110.30" stroke="#000" stroke-width="0.8"/>
<line x1="390.60" y1="108.88" x2="392.80" y2="108.88" stroke="#000" stroke-width="0.8"/>
<line x1="390.60" y1="107.72" x2="392.80" y2="107.72" stroke="#000" stroke-width="0.8"/>
<line x1="390.60" y1="106.73" x2="392.80" y2="106.73" stroke="#000" stroke-width="0.8"/>
<line x1="390.60" y1="105.88" x2="392.80" y2="105.88" stroke="#000" stroke-width="0.8"/>
<line x1="390.60" y1="105.13" x2="392.80" y2="105.13" stroke="#000" stroke-width="0.8"/>
<line x1="389.20" y1="104.46" x2="392.80" y2="104.46" stroke="#000" stroke-width="1.1"/>
<line x1="390.60" y1="100.04" x2="392.80" y2="100.04" stroke="#000" stroke-width="0.8"/>
<line x1="390.60" y1="97.46" x2="392.80" y2="97.46" stroke="#000" stroke-width="0.8"/>
<line x1="390.60" y1="95.62" x2="392.80" y2="95.62" stroke="#000" stroke-width="0.8"/>
<line x1="390.60" y1="94.20" x2="392.80" y2="94.20" stroke="#000" stroke-width="0.8"/>
<line x1="390.60" y1="93.04" x2="392.80" y2="93.04" stroke="#000" stroke-width="0.8"/>
<line x1="390.60" y1="92.05" x2="392.80" y2="92.05" stroke="#000" stroke-width="0.8"/>
<line x1="390.60" y1="91.20" x2="392.80" y2="91.20" stroke="#000" stroke-width="0.8"/>
<line x1="390.60" y1="90.45" x2="392.80" y2="90.45" stroke="#000" stroke-width="0.8"/>
<line x1="389.20" y1="89.78" x2="392.80" y2="89.78" stroke="#000" stroke-width="1.1"/>
<line x1="390.60" y1="85.36" x2="392.80" y2="85.36" stroke="#000" stroke-width="0.8"/>
<line x1="390.60" y1="82.78" x2="392.80" y2="82.78" stroke="#000" stroke-width="0.8"/>
<line x1="390.60" y1="80.94" x2="392.80" y2="80.94" stroke="#000" stroke-width="0.8"/>
<line x1="390.60" y1="79.52" x2="392.80" y2="79.52" stroke="#000" stroke-width="0.8"/>
<line x1="390.60" y1="78.36" x2="392.80" y2="78.36" stroke="#000" stroke-width="0.8"/>
<line x1="390.60" y1="77.37" x2="392.80" y2="77.37" stroke="#000" stroke-width="0.8"/>
<line x1="390.60" y1="76.52" x2="392.80" y2="76.52" stroke="#000" stroke-width="0.8"/>
<line x1="390.60" y1="75.77" x2="392.80" y2="75.77" stroke="#000" stroke-width="0.8"/>
<line x1="389.20" y1="75.10" x2="392.80" y2="75.10" stroke="#000" stroke-width="1.1"/>
<line x1="390.60" y1="70.68" x2="392.80" y2="70.68" stroke="#000" stroke-width="0.8"/>
<line x1="390.60" y1="68.10" x2="392.80" y2="68.10" stroke="#000" stroke-width="0.8"/>
<line x1="390.60" y1="66.26" x2="392.80" y2="66.26" stroke="#000" stroke-width="0.8"/>
<line x1="390.60" y1="64.84" x2="392.80" y2="64.84" stroke="#000" stroke-width="0.8"/>
<line x1="390.60" y1="63.68" x2="392.80" y2="63.68" stroke="#000" stroke-width="0.8"/>
<line x1="390.60" y1="62.69" x2="392.80" y2="62.69" stroke="#000" stroke-width="0.8"/>
<line x1="390.60" y1="61.84" x2="392.80" y2="61.84" stroke="#000" stroke-width="0.8"/>
<line x1="390.60" y1="61.09" x2="392.80" y2="61.09" stroke="#000" stroke-width="0.8"/>
<line x1="389.20" y1="60.42" x2="392.80" y2="60.42" stroke="#000" stroke-width="1.1"/>
<line x1="390.60" y1="56.00" x2="392.80" y2="56.00" stroke="#000" stroke-width="0.8"/>
<line x1="390.60" y1="53.42" x2="392.80" y2="53.42" stroke="#000" stroke-width="0.8"/>
<line x1="390.60" y1="51.58" x2="392.80" y2="51.58" stroke="#000" stroke-width="0.8"/>
<line x1="390.60" y1="50.16" x2="392.80" y2="50.16" stroke="#000" stroke-width="0.8"/>
<line x1="390.60" y1="49.00" x2="392.80" y2="49.00" stroke="#000" stroke-width="0.8"/>
<line x1="390.60" y1="48.01" x2="392.80" y2="48.01" stroke="#000" stroke-width="0.8"/>
<line x1="390.60" y1="47.16" x2="392.80" y2="47.16" stroke="#000" stroke-width="0.8"/>
<line x1="390.60" y1="46.41" x2="392.80" y2="46.41" stroke="#000" stroke-width="0.8"/>
<line x1="389.20" y1="45.74" x2="392.80" y2="45.74" stroke="#000" stroke-width="1.1"/>
<line x1="390.60" y1="41.32" x2="392.80" y2="41.32" stroke="#000" stroke-width="0.8"/>
<line x1="390.60" y1="38.74" x2="392.80" y2="38.74" stroke="#000" stroke-width="0.8"/>
<line x1="390.60" y1="36.90" x2="392.80" y2="36.90" stroke="#000" stroke-width="0.8"/>
<line x1="390.60" y1="35.48" x2="392.80" y2="35.48" stroke="#000" stroke-width="0.8"/>
<line x1="390.60" y1="34.32" x2="392.80" y2="34.32" stroke="#000" stroke-width="0.8"/>
<line x1="390.60" y1="33.33" x2="392.80" y2="33.33" stroke="#000" stroke-width="0.8"/>
<line x1="390.60" y1="32.48" x2="392.80" y2="32.48" stroke="#000" stroke-width="0.8"/>
<line x1="390.60" y1="31.73" x2="392.80" y2="31.73" stroke="#000" stroke-width="0.8"/>
<line x1="389.20" y1="31.06" x2="392.80" y2="31.06" stroke="#000" stroke-width="1.1"/>
<line x1="390.60" y1="26.64" x2="392.80" y2="26.64" stroke="#000" stroke-width="0.8"/>
<line x1="390.60" y1="24.06" x2="392.80" y2="24.06" stroke="#000" stroke-width="0.8"/>
<line x1="390.60" y1="22.22" x2="392.80" y2="22.22" stroke="#000" stroke-width="0.8"/>
<line x1="390.60" y1="20.80" x2="392.80" y2="20.80" stroke="#000" stroke-width="0.8"/>
<line x1="390.60" y1="19.64" x2="392.80" y2="19.64" stroke="#000" stroke-width="0.8"/>
<line x1="390.60" y1="18.65" x2="392.80" y2="18.65" stroke="#000" stroke-width="0.8"/>
<line x1="390.60" y1="17.80" x2="392.80" y2="17.80" stroke="#000" stroke-width="0.8"/>
<line x1="390.60" y1="17.05" x2="392.80" y2="17.05" stroke="#000" stroke-width="0.8"/>
<line x1="389.20" y1="16.38" x2="392.80" y2="16.38" stroke="#000" stroke-width="1.1"/>
<line x1="390.60" y1="11.96" x2="392.80" y2="11.96" stroke="#000" stroke-width="0.8"/>
<line x1="390.60" y1="9.38" x2="392.80" y2="9.38" stroke="#000" stroke-width="0.8"/>
<line x1="390.60" y1="7.54" x2="392.80" y2="7.54" stroke="#000" stroke-width="0.8"/>
<line x1="390.60" y1="6.12" x2="392.80" y2="6.12" stroke="#000" stroke-width="0.8"/>
<line x1="390.60" y1="4.96" x2="392.80" y2="4.96" stroke="#000" stroke-width="0.8"/>
<line x1="390.60" y1="3.97" x2="392.80" y2="3.97" stroke="#000" stroke-width="0.8"/>
<line x1="390.60" y1="3.12" x2="392.80" y2="3.12" stroke="#000" stroke-width="0.8"/>
<line x1="390.60" y1="2.37" x2="392.80" y2="2.37" stroke="#000" stroke-width="0.8"/>
<line x1="389.20" y1="1.70" x2="392.80" y2="1.70" stroke="#000" stroke-width="1.1"/>
<line x1="392.80" y1="221.90" x2="392.80" y2="225.50" stroke="#000" stroke-width="1.1"/>
<line x1="412.17" y1="221.90" x2="412.17" y2="224.10" stroke="#000" stroke-width="1.1"/>
<line x1="431.53" y1="221.90" x2="431.53" y2="225.50" stroke="#000" stroke-width="1.1"/>
<line x1="450.90" y1="221.90" x2="450.90" y2="224.10" stroke="#000" stroke-width="1.1"/>
<line x1="470.27" y1="221.90" x2="470.27" y2="225.50" stroke="#000" stroke-width="1.1"/>
<line x1="489.63" y1="221.90" x2="489.63" y2="224.10" stroke="#000" stroke-width="1.1"/>
<line x1="509.00" y1="221.90" x2="509.00" y2="225.50" stroke="#000" stroke-width="1.1"/>
<line x1="528.37" y1="221.90" x2="528.37" y2="224.10" stroke="#000" stroke-width="1.1"/>
<line x1="547.73" y1="221.90" x2="547.73" y2="225.50" stroke="#000" stroke-width="1.1"/>
<line x1="567.10" y1="221.90" x2="567.10" y2="224.10" stroke="#000" stroke-width="1.1"/>
<line x1="586.47" y1="221.90" x2="586.47" y2="225.50" stroke="#000" stroke-width="1.1"/>
<line x1="605.83" y1="221.90" x2="605.83" y2="224.10" stroke="#000" stroke-width="1.1"/>
<line x1="625.20" y1="221.90" x2="625.20" y2="225.50" stroke="#000" stroke-width="1.1"/>
<line x1="644.57" y1="221.90" x2="644.57" y2="224.10" stroke="#000" stroke-width="1.1"/>
<line x1="663.93" y1="221.90" x2="663.93" y2="225.50" stroke="#000" stroke-width="1.1"/>
<text x="37.10" y="225.90" text-anchor="end" style="font-family:'Liberation Serif',serif;font-weight:bold;font-size:10px">10<tspan dy="-4.6" style="font-size:6.4px">-21</tspan></text>
<text x="37.10" y="196.78" text-anchor="end" style="font-family:'Liberation Serif',serif;font-weight:bold;font-size:10px">10<tspan dy="-4.6" style="font-size:6.4px">-19</tspan></text>
<text x="37.10" y="167.66" text-anchor="end" style="font-family:'Liberation Serif',serif;font-weight:bold;font-size:10px">10<tspan dy="-4.6" style="font-size:6.4px">-17</tspan></text>
<text x="37.10" y="138.54" text-anchor="end" style="font-family:'Liberation Serif',serif;font-weight:bold;font-size:10px">10<tspan dy="-4.6" style="font-size:6.4px">-15</tspan></text>
<text x="37.10" y="109.42" text-anchor="end" style="font-family:'Liberation Serif',serif;font-weight:bold;font-size:10px">10<tspan dy="-4.6" style="font-size:6.4px">-13</tspan></text>
<text x="37.10" y="80.30" text-anchor="end" style="font-family:'Liberation Serif',serif;font-weight:bold;font-size:10px">10<tspan dy="-4.6" style="font-size:6.4px">-11</tspan></text>
<text x="37.10" y="51.18" text-anchor="end" style="font-family:'Liberation Serif',serif;font-weight:bold;font-size:10px">10<tspan dy="-4.6" style="font-size:6.4px">-9</tspan></text>
<text x="37.10" y="22.06" text-anchor="end" style="font-family:'Liberation Serif',serif;font-weight:bold;font-size:10px">10<tspan dy="-4.6" style="font-size:6.4px">-7</tspan></text>
<text x="385.40" y="225.80" text-anchor="end" style="font-family:'Liberation Serif',serif;font-weight:bold;font-size:9.8px">10<tspan dy="-4.6" style="font-size:6.3px">-21</tspan></text>
<text x="385.40" y="196.44" text-anchor="end" style="font-family:'Liberation Serif',serif;font-weight:bold;font-size:9.8px">10<tspan dy="-4.6" style="font-size:6.3px">-19</tspan></text>
<text x="385.40" y="167.08" text-anchor="end" style="font-family:'Liberation Serif',serif;font-weight:bold;font-size:9.8px">10<tspan dy="-4.6" style="font-size:6.3px">-17</tspan></text>
<text x="385.40" y="137.72" text-anchor="end" style="font-family:'Liberation Serif',serif;font-weight:bold;font-size:9.8px">10<tspan dy="-4.6" style="font-size:6.3px">-15</tspan></text>
<text x="385.40" y="108.36" text-anchor="end" style="font-family:'Liberation Serif',serif;font-weight:bold;font-size:9.8px">10<tspan dy="-4.6" style="font-size:6.3px">-13</tspan></text>
<text x="385.40" y="79.00" text-anchor="end" style="font-family:'Liberation Serif',serif;font-weight:bold;font-size:9.8px">10<tspan dy="-4.6" style="font-size:6.3px">-11</tspan></text>
<text x="385.40" y="49.64" text-anchor="end" style="font-family:'Liberation Serif',serif;font-weight:bold;font-size:9.8px">10<tspan dy="-4.6" style="font-size:6.3px">-9</tspan></text>
<text x="385.40" y="20.28" text-anchor="end" style="font-family:'Liberation Serif',serif;font-weight:bold;font-size:9.8px">10<tspan dy="-4.6" style="font-size:6.3px">-7</tspan></text>
<text x="44.40" y="236.20" text-anchor="middle" style="font-family:'Liberation Serif',serif;font-weight:bold;font-size:9.0px">0.0</text>
<text x="84.67" y="236.20" text-anchor="middle" style="font-family:'Liberation Serif',serif;font-weight:bold;font-size:9.0px">0.2</text>
<text x="124.93" y="236.20" text-anchor="middle" style="font-family:'Liberation Serif',serif;font-weight:bold;font-size:9.0px">0.4</text>
<text x="165.20" y="236.20" text-anchor="middle" style="font-family:'Liberation Serif',serif;font-weight:bold;font-size:9.0px">0.6</text>
<text x="205.47" y="236.20" text-anchor="middle" style="font-family:'Liberation Serif',serif;font-weight:bold;font-size:9.0px">0.8</text>
<text x="245.73" y="236.20" text-anchor="middle" style="font-family:'Liberation Serif',serif;font-weight:bold;font-size:9.0px">1.0</text>
<text x="286.00" y="236.20" text-anchor="middle" style="font-family:'Liberation Serif',serif;font-weight:bold;font-size:9.0px">1.2</text>
<text x="326.27" y="236.20" text-anchor="middle" style="font-family:'Liberation Serif',serif;font-weight:bold;font-size:9.0px">1.4</text>
<text x="392.80" y="235.70" text-anchor="middle" style="font-family:'Liberation Serif',serif;font-weight:bold;font-size:8.7px">0.0</text>
<text x="431.53" y="235.70" text-anchor="middle" style="font-family:'Liberation Serif',serif;font-weight:bold;font-size:8.7px">0.2</text>
<text x="470.27" y="235.70" text-anchor="middle" style="font-family:'Liberation Serif',serif;font-weight:bold;font-size:8.7px">0.4</text>
<text x="509.00" y="235.70" text-anchor="middle" style="font-family:'Liberation Serif',serif;font-weight:bold;font-size:8.7px">0.6</text>
<text x="547.73" y="235.70" text-anchor="middle" style="font-family:'Liberation Serif',serif;font-weight:bold;font-size:8.7px">0.8</text>
<text x="586.47" y="235.70" text-anchor="middle" style="font-family:'Liberation Serif',serif;font-weight:bold;font-size:8.7px">1.0</text>
<text x="625.20" y="235.70" text-anchor="middle" style="font-family:'Liberation Serif',serif;font-weight:bold;font-size:8.7px">1.2</text>
<text x="663.93" y="235.70" text-anchor="middle" style="font-family:'Liberation Serif',serif;font-weight:bold;font-size:8.7px">1.4</text>
<text x="195" y="253.0" text-anchor="middle" style="font-family:'Liberation Serif',serif;font-weight:bold;font-size:10.6px">Gate Voltage, V <tspan dx="0.9" dy="3.2" style="font-size:7.6px">gs</tspan><tspan dy="-3.2"> (V)</tspan></text>
<text x="537.8" y="252.7" text-anchor="middle" style="font-family:'Liberation Serif',serif;font-weight:bold;font-size:10.3px">Gate Voltage, V <tspan dx="1.0" dy="3.3" style="font-size:6.7px">gs</tspan><tspan dy="-3.3"> (V)</tspan></text>
<text transform="translate(9.7,106.3) rotate(-90)" text-anchor="middle" style="font-family:'Liberation Serif',serif;font-weight:bold;font-size:11.7px">Drain Current, I <tspan dx="0.8" dy="3.3" style="font-size:7.8px">ds</tspan><tspan dy="-3.3"> (A/μm)</tspan></text>
<text transform="translate(274.6,137.8) scale(1,1.08)" text-anchor="middle" style="font-family:'Liberation Serif',serif;font-weight:bold;font-size:10.6px">(a)</text>
<text transform="translate(433.8,43.6) scale(1,1.08)" text-anchor="middle" style="font-family:'Liberation Serif',serif;font-weight:bold;font-size:10.5px">(b)</text>
<rect x="59.7" y="11.8" width="65.2" height="96.6" fill="#fff" stroke="#999" stroke-width="0.9"/>
<line x1="61.4" y1="22.00" x2="95.4" y2="22.00" stroke="#000000" stroke-width="1.7"/>
<rect x="76.40" y="19.80" width="4.40" height="4.40" fill="#000000"/>
<text transform="translate(99.4,28.00) scale(1,1.1)" style="font-family:'Liberation Serif',serif;font-weight:bold;font-size:13.3px">k=1</text>
<line x1="61.4" y1="40.80" x2="95.4" y2="40.80" stroke="#00ff00" stroke-width="1.7"/>
<circle cx="78.60" cy="40.80" r="2.50" fill="#00ff00"/>
<text transform="translate(99.4,46.80) scale(1,1.1)" style="font-family:'Liberation Serif',serif;font-weight:bold;font-size:13.3px">k=3</text>
<line x1="61.4" y1="59.60" x2="95.4" y2="59.60" stroke="#0000ff" stroke-width="1.7"/>
<path d="M78.60,56.60L81.60,59.60L78.60,62.60L75.60,59.60Z" fill="#0000ff"/>
<text transform="translate(99.4,65.60) scale(1,1.1)" style="font-family:'Liberation Serif',serif;font-weight:bold;font-size:13.3px">k=5</text>
<line x1="61.4" y1="78.40" x2="95.4" y2="78.40" stroke="#800080" stroke-width="1.7"/>
<polygon points="78.60,75.65 81.22,77.55 80.22,80.62 76.98,80.62 75.98,77.55" fill="#800080"/>
<text transform="translate(99.4,84.40) scale(1,1.1)" style="font-family:'Liberation Serif',serif;font-weight:bold;font-size:13.3px">k=7</text>
<line x1="61.4" y1="97.20" x2="95.4" y2="97.20" stroke="#ff0000" stroke-width="1.7"/>
<circle cx="78.60" cy="97.20" r="2.50" fill="#ff0000"/>
<text transform="translate(99.4,103.20) scale(1,1.1)" style="font-family:'Liberation Serif',serif;font-weight:bold;font-size:13.3px">k=9</text>
<rect x="578.8" y="141.1" width="99" height="72.5" fill="#fff" stroke="#999" stroke-width="0.9"/>
<line x1="580.2" y1="148.50" x2="606.6" y2="148.50" stroke="#000000" stroke-width="1.5"/>
<rect x="590.65" y="146.25" width="4.50" height="4.50" fill="#000000"/>
<text transform="translate(609.2,152.70) scale(1,1.08)" style="font-family:'Liberation Serif',serif;font-weight:bold;font-size:10.4px">k=5, ρ = -1e12</text>
<line x1="580.2" y1="162.85" x2="606.6" y2="162.85" stroke="#00ff00" stroke-width="1.5"/>
<circle cx="592.90" cy="162.85" r="2.55" fill="#00ff00"/>
<text transform="translate(609.2,167.05) scale(1,1.08)" style="font-family:'Liberation Serif',serif;font-weight:bold;font-size:10.4px">k=5, ρ = -5e11</text>
<line x1="580.2" y1="177.20" x2="606.6" y2="177.20" stroke="#0000ff" stroke-width="1.5"/>
<path d="M592.90,174.14L595.96,177.20L592.90,180.26L589.84,177.20Z" fill="#0000ff"/>
<text transform="translate(609.2,181.40) scale(1,1.08)" style="font-family:'Liberation Serif',serif;font-weight:bold;font-size:10.4px">k=5, ρ = 0</text>
<line x1="580.2" y1="191.55" x2="606.6" y2="191.55" stroke="#800080" stroke-width="1.5"/>
<polygon points="592.90,188.75 595.57,190.68 594.55,193.82 591.25,193.82 590.23,190.68" fill="#800080"/>
<text transform="translate(609.2,195.75) scale(1,1.08)" style="font-family:'Liberation Serif',serif;font-weight:bold;font-size:10.4px">k=5, ρ = 5e11</text>
<line x1="580.2" y1="205.90" x2="606.6" y2="205.90" stroke="#ff0000" stroke-width="1.5"/>
<circle cx="592.90" cy="205.90" r="2.55" fill="#ff0000"/>
<text transform="translate(609.2,210.10) scale(1,1.08)" style="font-family:'Liberation Serif',serif;font-weight:bold;font-size:10.4px">k=5, ρ = 1e12</text>
</svg>
</body></html>
